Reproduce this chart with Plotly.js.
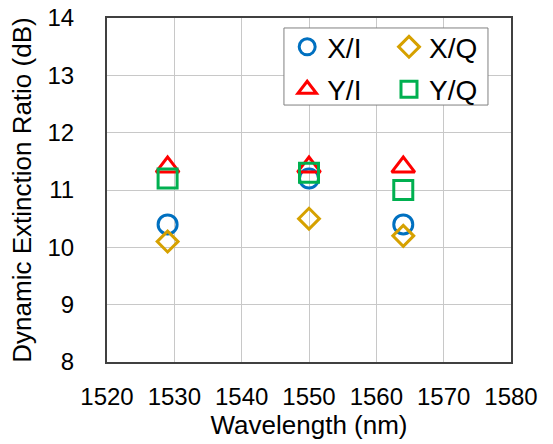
<!DOCTYPE html>
<html><head><meta charset="utf-8">
<script src="https://cdn.plot.ly/plotly-3.0.1.min.js"></script>
<style>html,body{margin:0;padding:0;background:#fff}#chart{width:553px;height:444px}</style>
</head><body><div id="chart"></div>
<script>
const wavelengthsXI = [1529, 1550, 1564];
const valuesXI = [10.4, 11.2, 10.4];
const wavelengthsXQ = [1529, 1550, 1564];
const valuesXQ = [10.1, 10.5, 10.2];
const wavelengthsYI = [1529, 1550, 1564];
const valuesYI = [11.4, 11.4, 11.4];
const wavelengthsYQ = [1529, 1550, 1564];
const valuesYQ = [11.2, 11.3, 11.0];
const xTicks = [1520, 1530, 1540, 1550, 1560, 1570, 1580];
const yTicks = [8, 9, 10, 11, 12, 13, 14];

const FONT = 'Liberation Sans, Arial, sans-serif';
function tr(name, x, y, sym, color, size, legend, group) {
  return {x: x, y: y, name: name, type: 'scatter', mode: 'markers',
    legend: legend, legendgroup: group,
    marker: {symbol: sym, size: size, color: color, line: {color: color, width: 3}}};
}
const data = [
  tr('X/I', wavelengthsXI, valuesXI, 'circle-open', '#0070C0', 19, 'legend', 'a'),
  tr('X/Q', wavelengthsXQ, valuesXQ, 'diamond-open', '#D6A100', 16, 'legend2', 'c'),
  tr('Y/I', wavelengthsYI, valuesYI, 'triangle-up-open', '#FF0000', 20, 'legend', 'b'),
  tr('Y/Q', wavelengthsYQ, valuesYQ, 'square-open', '#00B050', 19, 'legend2', 'd')
];
const legendCommon = {font: {family: FONT, size: 28, color: '#000'}, bgcolor: 'rgba(0,0,0,0)',
  borderwidth: 0, orientation: 'v', tracegroupgap: 3, xanchor: 'left', yanchor: 'top', itemsizing: 'trace'};
const layout = {
  width: 553, height: 444,
  margin: {l: 107, r: 42, t: 18, b: 82},
  paper_bgcolor: '#fff', plot_bgcolor: '#fff',
  font: {family: FONT, size: 24, color: '#000'},
  xaxis: {range: [1520, 1580], tickvals: xTicks, ticktext: xTicks.map(String),
    showgrid: true, gridcolor: '#c8c8c8', gridwidth: 1,
    showline: true, linecolor: '#404040', linewidth: 2, mirror: true,
    ticks: '', ticklabelstandoff: 12, zeroline: false,
    title: {text: 'Wavelength (nm)', font: {size: 26}, standoff: 4}},
  yaxis: {range: [8, 14], tickvals: yTicks, ticktext: yTicks.map(String),
    showgrid: true, gridcolor: '#c8c8c8', gridwidth: 1,
    showline: true, linecolor: '#404040', linewidth: 2, mirror: true,
    ticks: '', ticklabelstandoff: 26, zeroline: false,
    title: {text: 'Dynamic Extinction Ratio (dB)', font: {size: 26}, standoff: 8}},
  showlegend: true,
  legend: Object.assign({}, legendCommon, {x: 0.446, y: 0.988}),
  legend2: Object.assign({}, legendCommon, {x: 0.698, y: 0.988}),
  shapes: [{type: 'rect', xref: 'paper', yref: 'paper', x0: 0.438, x1: 0.943, y0: 0.747, y1: 0.971,
    line: {color: '#808080', width: 1}, fillcolor: '#fff', layer: 'above'}]
};
Plotly.newPlot('chart', data, layout, {staticPlot: true, displayModeBar: false});
</script></body></html>
